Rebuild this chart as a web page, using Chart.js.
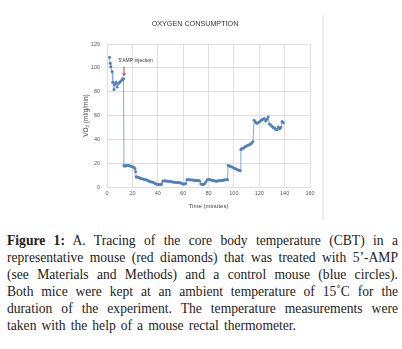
<!DOCTYPE html>
<html>
<head>
<meta charset="utf-8">
<script src="https://cdn.jsdelivr.net/npm/chart.js@4.4.1/dist/chart.umd.min.js"></script>
<style>
    html, body { margin: 0; padding: 0; background: #fff; }
    body { width: 402px; height: 349px; position: relative; overflow: hidden; }
    #wrap { position: absolute; left: 0; top: 0; width: 330px; height: 220px; }
    #frameLine { position: absolute; left: 322px; top: 15px; width: 2px; height: 205px; background: #ebebeb; }
    #caption {
        position: absolute; left: 7px; top: 232px; width: 391px;
        font-family: "Liberation Serif", "Times New Roman", serif;
        font-size: 13.6px; line-height: 17px; color: #222;
    }
    #caption div { text-align: justify; text-align-last: justify; white-space: nowrap; }
    #caption div.last { width: 289px; }
</style>
</head>
<body>
<div id="wrap"><canvas id="o2Chart"></canvas></div>
<div id="frameLine"></div>
<div id="caption">
    <div><b>Figure 1:</b> A. Tracing of the core body temperature (CBT) in a</div>
    <div>representative mouse (red diamonds) that was treated with 5’-AMP</div>
    <div>(see Materials and Methods) and a control mouse (blue circles).</div>
    <div>Both mice were kept at an ambient temperature of 15˚C for the</div>
    <div>duration of the experiment. The temperature measurements were</div>
    <div class="last">taken with the help of a mouse rectal thermometer.</div>
</div>

<script>
// Time (minutes) and VO2 readings
const timeMin = [
    2, 2.5, 3, 4, 4.5, 5.5, 6, 7, 8, 9, 10, 11, 12, 12.5, 13,
    13.4, 14, 15, 16, 17, 18, 19, 20, 21, 22, 22.5,
    23, 24, 25, 26, 27, 28, 29, 30, 31, 32, 33, 34, 35, 36, 37, 38, 39, 40, 41, 42, 43,
    44, 45, 46, 47, 48, 49, 50, 51, 52, 53, 54, 55, 56, 57, 58, 59, 60, 61, 62,
    63, 64, 65, 66, 67, 68, 69, 70, 71, 72, 73, 74, 75, 76, 77, 78,
    79, 80, 81, 82, 83, 84, 85, 86, 87, 88, 89, 90, 91, 92, 93, 94, 95,
    95.5, 96, 97, 98, 99, 100, 101, 102, 103, 104, 105,
    105.5, 106, 107, 108, 109, 110, 111, 112, 113, 114, 115,
    116, 117, 118, 119, 120, 121, 122, 123, 124, 125, 126, 127,
    128, 129, 130, 131, 132, 133, 134, 135, 136, 137, 138, 139
];
const vo2 = [
    109, 104, 101, 97, 88, 82, 86, 88, 84, 87, 88, 89, 90, 91, 91,
    18, 17.5, 18, 18, 18, 17.8, 17.5, 17, 16.5, 15.5, 13,
    8.5, 8.5, 8, 7.5, 7, 7, 6.5, 6, 6, 5.5, 5, 4.5, 4.5, 4, 3.5, 3, 2.5, 2, 2, 1.8, 2.5,
    5, 5.2, 5, 5, 4.8, 4.8, 4.6, 4.5, 4.2, 4, 4, 3.8, 3.8, 3.5, 3.5, 3, 2.5, 2.5, 3,
    6, 6.2, 6, 6, 5.8, 5.8, 5.5, 5.7, 5.5, 5.5, 5.3, 2.5, 2, 2.2, 3, 4.5,
    6, 6.2, 6, 6, 5.5, 5.2, 5.2, 4.8, 5, 5.2, 5.5, 5.5, 5.5, 5.8, 6, 6, 6,
    18, 17.8, 17.5, 17, 16.5, 16, 15.5, 15, 14.5, 14, 13.7,
    31.5, 32, 32.5, 33, 34, 34.5, 35, 35.5, 36, 37, 38,
    56, 54.5, 53.5, 54, 54.5, 55.5, 56.5, 57, 57.5, 55.5, 57, 59,
    53, 52, 51, 50, 49.5, 48.5, 48, 50.5, 49, 50, 55, 54
];
const xTicks = [0, 20, 40, 60, 80, 100, 120, 140, 160];
const yTicks = [0, 20, 40, 60, 80, 100, 120];

// Injection marker (data units)
const injectionLabel = "5'AMP injection";
const injectionTime = 13.4;

const tickFont = { family: '"Liberation Sans", Arial, sans-serif', size: 5.5 };
const gridColor = '#dedede';

// Draws the injection label and red arrow
const injectionPlugin = {
    id: 'injection',
    afterDatasetsDraw(chart) {
        const { ctx, scales } = chart;
        const ax = scales.x.getPixelForValue(injectionTime);
        const yTop = scales.y.getPixelForValue(101);
        const yBot = scales.y.getPixelForValue(93);
        ctx.save();
        ctx.font = '5px "Liberation Sans", Arial, sans-serif';
        ctx.fillStyle = '#333';
        ctx.textBaseline = 'middle';
        ctx.fillText(injectionLabel, scales.x.getPixelForValue(9), scales.y.getPixelForValue(106));
        ctx.strokeStyle = '#e0393e';
        ctx.fillStyle = '#e0393e';
        ctx.lineWidth = 1;
        ctx.beginPath();
        ctx.moveTo(ax, yTop);
        ctx.lineTo(ax, yBot - 3);
        ctx.stroke();
        ctx.beginPath();
        ctx.moveTo(ax - 2, yBot - 3);
        ctx.lineTo(ax + 2, yBot - 3);
        ctx.lineTo(ax, yBot);
        ctx.closePath();
        ctx.fill();
        ctx.restore();
    }
};

const ctx = document.getElementById('o2Chart').getContext('2d');
new Chart(ctx, {
    type: 'line',
    data: {
        datasets: [{
            data: timeMin.map((t, i) => ({ x: t, y: vo2[i] })),
            borderColor: '#86aadb',
            borderWidth: 1,
            pointRadius: 1.5,
            pointBorderWidth: 0,
            pointBackgroundColor: '#4f81bd',
            tension: 0
        }]
    },
    options: {
        responsive: true,
        maintainAspectRatio: false,
        animation: false,
        layout: { padding: { left: 80, right: 20, top: 0, bottom: 8 } },
        plugins: {
            legend: { display: false },
            tooltip: { enabled: false },
            title: {
                display: true,
                text: 'OXYGEN CONSUMPTION',
                color: '#333',
                font: { family: '"Liberation Sans", Arial, sans-serif', size: 7.2, weight: 'normal' },
                padding: { top: 19.5, bottom: 16 }
            }
        },
        scales: {
            x: {
                type: 'linear',
                min: 0,
                max: 160,
                afterFit: (scale) => { scale.height = 25; },
                afterBuildTicks: (scale) => { scale.ticks = xTicks.map(v => ({ value: v })); },
                grid: { color: gridColor, drawTicks: false },
                border: { color: gridColor },
                ticks: { font: tickFont, color: '#555', padding: 3, maxRotation: 0 },
                title: {
                    display: true,
                    text: 'Time (minutes)',
                    color: '#444',
                    font: { family: '"Liberation Sans", Arial, sans-serif', size: 6 },
                    padding: { top: 0, bottom: 2 }
                }
            },
            y: {
                min: 0,
                max: 120,
                afterFit: (scale) => { scale.width = 27; },
                afterBuildTicks: (scale) => { scale.ticks = yTicks.map(v => ({ value: v })); },
                grid: { color: gridColor, drawTicks: false },
                border: { color: gridColor },
                ticks: { font: tickFont, color: '#555', padding: 7 },
                title: {
                    display: true,
                    text: 'VO₂ (ml/g/min)',
                    color: '#444',
                    font: { family: '"Liberation Sans", Arial, sans-serif', size: 6.5 },
                    padding: { top: 2, bottom: 0 }
                }
            }
        }
    },
    plugins: [injectionPlugin]
});
</script>
</body>
</html>
